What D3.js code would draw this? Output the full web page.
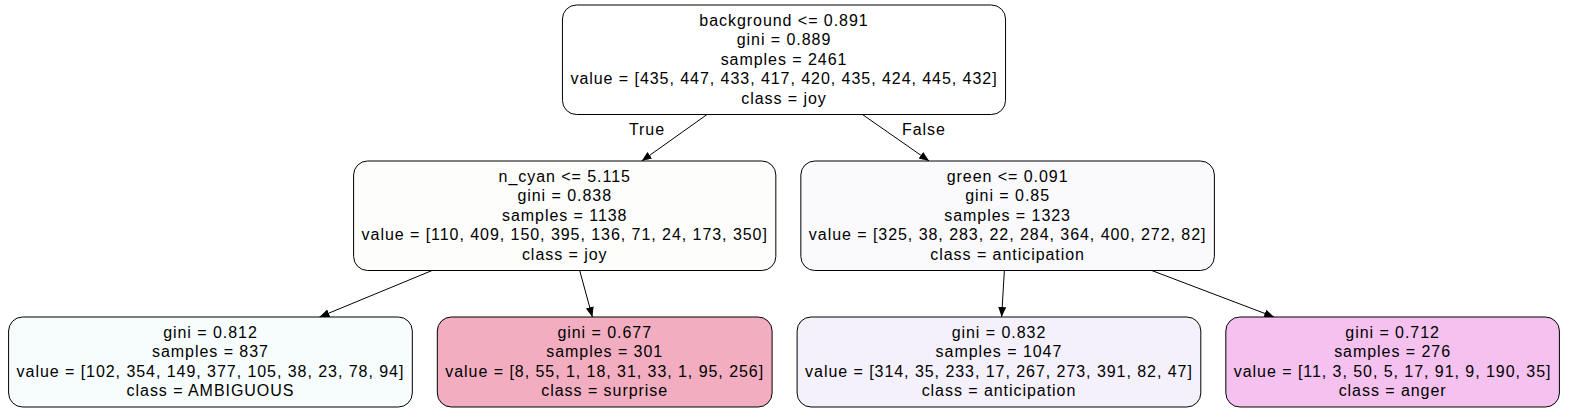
<!DOCTYPE html>
<html><head><meta charset="utf-8">
<script src="https://cdn.jsdelivr.net/npm/d3@7"></script>
<style>body{margin:0;background:#fff}text{font-family:"Liberation Sans",Arial,sans-serif;font-size:16px;letter-spacing:0.95px}</style>
</head><body><svg id="chart" width="1594" height="419"></svg>
<script>
// node ids, parents, label lines and fills
const ids = ["root", "l", "r", "ll", "lr", "rl", "rr"];
const parents = [null, "root", "root", "l", "l", "r", "r"];
const splits = ["background <= 0.891", "n_cyan <= 5.115", "green <= 0.091", null, null, null, null];
const ginis = [0.889, 0.838, 0.85, 0.812, 0.677, 0.832, 0.712];
const samples = [2461, 1138, 1323, 837, 301, 1047, 276];
const values = [
  [435, 447, 433, 417, 420, 435, 424, 445, 432],
  [110, 409, 150, 395, 136, 71, 24, 173, 350],
  [325, 38, 283, 22, 284, 364, 400, 272, 82],
  [102, 354, 149, 377, 105, 38, 23, 78, 94],
  [8, 55, 1, 18, 31, 33, 1, 95, 256],
  [314, 35, 233, 17, 267, 273, 391, 82, 47],
  [11, 3, 50, 5, 17, 91, 9, 190, 35]
];
const classes = ["joy", "joy", "anticipation", "AMBIGUOUS", "surprise", "anticipation", "anger"];
const fills = ["#ffffff", "#fdfdfb", "#fafafd", "#f7fdfc", "#f2aec0", "#f4f1fc", "#f5c1ef"];
const edgeLabels = {l: "True", r: "False"};

const svg = d3.select("#chart");
const W = 1594, lh = 19.5, padX = 8, padY = 6, gap = 25;

const table = ids.map((id, i) => ({
  id, parent: parents[i], fill: fills[i],
  lines: [splits[i], `gini = ${ginis[i]}`, `samples = ${samples[i]}`,
          `value = [${values[i].join(", ")}]`, `class = ${classes[i]}`].filter(d => d)
}));
const root = d3.stratify().id(d => d.id).parentId(d => d.parent)(table);

// measure text widths
const meas = svg.append("text");
root.each(n => {
  n.w = d3.max(n.data.lines, t => { meas.text(t); return meas.node().getComputedTextLength(); }) + 2 * padX;
  n.h = n.data.lines.length * lh + 2 * padY;
});
meas.remove();

// pack each depth as a row centered on the page
const yTop = d3.scaleLinear().domain([0, 1]).range([5, 161]);
d3.groups(root.descendants(), n => n.depth).forEach(([depth, row]) => {
  const total = d3.sum(row, n => n.w) + gap * (row.length - 1);
  let x = (W - total) / 2 - 13;
  row.forEach(n => { n.x0 = x; n.cx = x + n.w / 2; x += n.w + gap; n.y0 = yTop(depth); n.cy = n.y0 + n.h / 2; });
});

svg.append("defs").append("marker").attr("id", "arr")
  .attr("viewBox", "0 0 10 10").attr("refX", 10).attr("refY", 5)
  .attr("markerWidth", 10).attr("markerHeight", 10).attr("markerUnits", "userSpaceOnUse")
  .attr("orient", "auto").append("path").attr("d", "M0,1L10,5L0,9Z").attr("fill", "#000");

// edges: center-to-center clipped to box edges
root.links().forEach(({source: s, target: t}) => {
  const dx = t.cx - s.cx, dy = t.cy - s.cy;
  const y1 = s.y0 + s.h, y2 = t.y0;
  const x1 = s.cx + dx * (y1 - s.cy) / dy, x2 = s.cx + dx * (y2 - s.cy) / dy;
  svg.append("line").attr("x1", x1).attr("y1", y1).attr("x2", x2).attr("y2", y2)
    .attr("stroke", "#000").attr("marker-end", "url(#arr)");
  const lab = edgeLabels[t.id];
  if (lab) {
    const ly = y1 + 15, lx = s.cx + dx * (ly - s.cy) / dy;
    svg.append("text").attr("x", lx + (dx < 0 ? -39 : 40)).attr("y", ly + 5)
      .attr("text-anchor", "middle").text(lab);
  }
});

const g = svg.selectAll("g.node").data(root.descendants()).join("g").attr("class", "node");
g.append("rect").attr("x", d => d.x0).attr("y", d => d.y0).attr("width", d => d.w).attr("height", d => d.h)
  .attr("rx", 14).attr("fill", d => d.data.fill).attr("stroke", "#000");
g.each(function (d) {
  d3.select(this).selectAll("text.l").data(d.data.lines).join("text").attr("class", "l")
    .attr("x", d.cx).attr("y", (t, i) => d.y0 + padY + lh * i + 14.5)
    .attr("text-anchor", "middle").text(t => t);
});
</script></body></html>
